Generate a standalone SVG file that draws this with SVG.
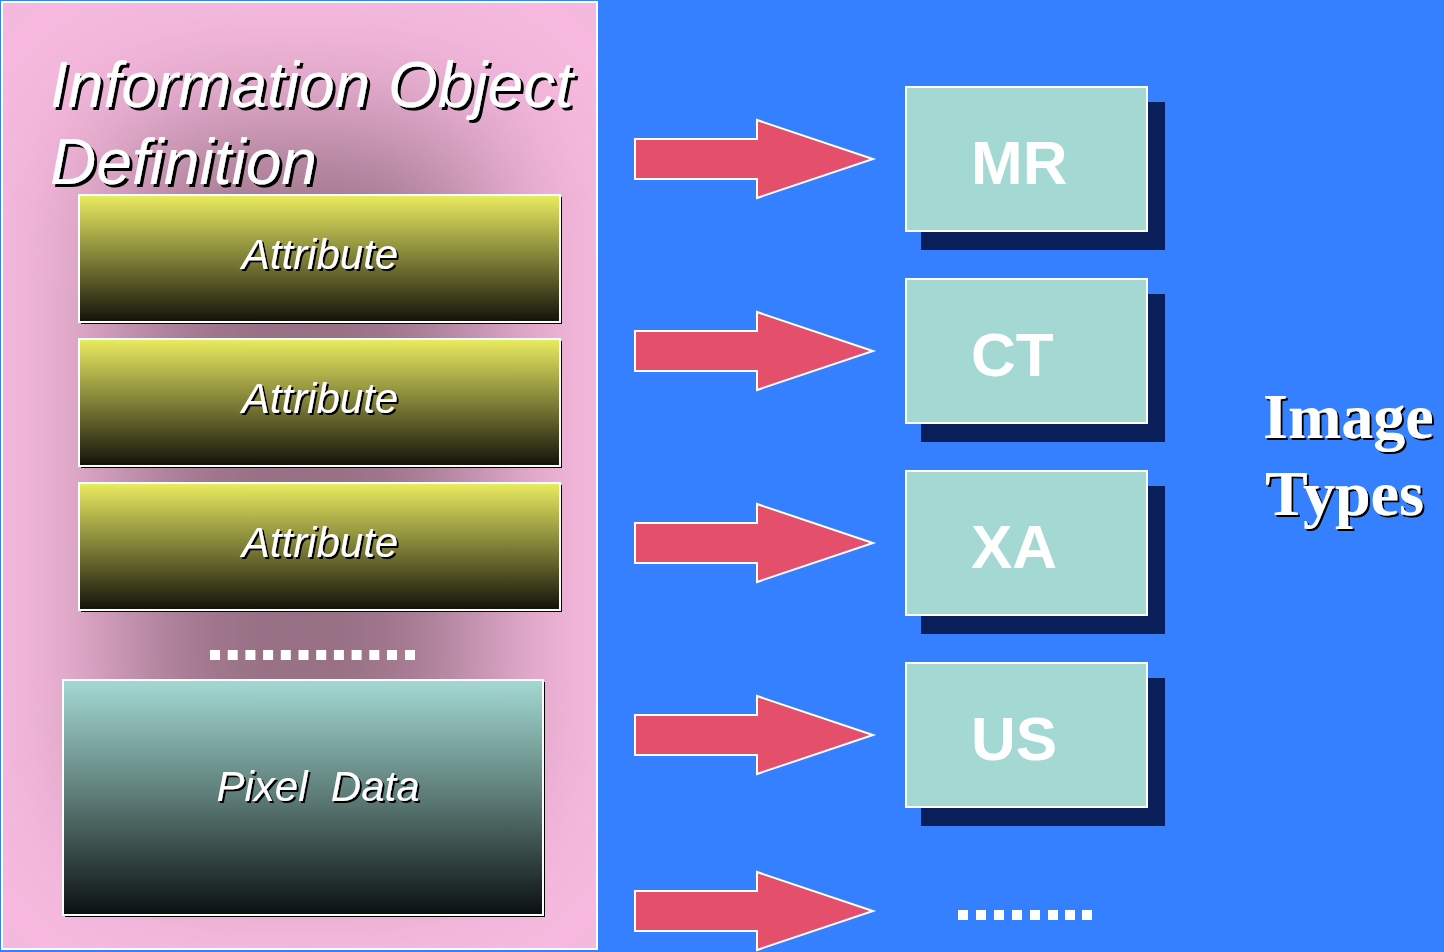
<svg xmlns="http://www.w3.org/2000/svg" width="1444" height="952" viewBox="0 0 1444 952">
  <defs>
    <linearGradient id="gAttr" x1="0" y1="0" x2="0" y2="1">
      <stop offset="0" stop-color="#EAEC60"/>
      <stop offset="0.5" stop-color="#7F7F38"/>
      <stop offset="1" stop-color="#12120A"/>
    </linearGradient>
    <linearGradient id="gPixel" x1="0" y1="0" x2="0" y2="1">
      <stop offset="0" stop-color="#A4D9D3"/>
      <stop offset="0.5" stop-color="#5C7B76"/>
      <stop offset="1" stop-color="#0B1010"/>
    </linearGradient>
    <filter id="haze" x="-60%" y="-60%" width="220%" height="220%">
      <feGaussianBlur stdDeviation="75"/>
    </filter>
    <filter id="shadow" x="-5%" y="-20%" width="110%" height="140%">
      <feOffset in="SourceAlpha" dx="3" dy="3" result="off"/>
      <feFlood flood-color="#000"/>
      <feComposite in2="off" operator="in" result="sh"/>
      <feMerge><feMergeNode in="sh"/><feMergeNode in="SourceGraphic"/></feMerge>
    </filter>
    <filter id="shadowSm" x="-5%" y="-20%" width="110%" height="140%">
      <feOffset in="SourceAlpha" dx="2" dy="2" result="off"/>
      <feFlood flood-color="#000"/>
      <feComposite in2="off" operator="in" result="sh"/>
      <feMerge><feMergeNode in="sh"/><feMergeNode in="SourceGraphic"/></feMerge>
    </filter>
    <clipPath id="panelClip"><rect x="3" y="3" width="593" height="945"/></clipPath>
    <polygon id="arrow" points="0,-20 122,-20 122,-39 238,0 122,39 122,20 0,20"/>
    <style>
      .sans { font-family: "Liberation Sans", Arial, sans-serif; fill: #fff; }
      .ital { font-style: italic; }
      .serif { font-family: "Liberation Serif", "Times New Roman", serif; fill: #fff; font-weight: bold; }
      .box { fill: #A4D9D3; stroke: #fff; stroke-width: 2; }
      .boxShadow { fill: #0A1E5A; }
      .attr { fill: url(#gAttr); stroke: #fff; stroke-width: 2; }
      .edge { fill: #000; }
      .arrow { fill: #E4506C; stroke: #fff; stroke-width: 2; }
      .dot { fill: #fff; }
    </style>
  </defs>

  <!-- background -->
  <rect x="0" y="0" width="1444" height="952" fill="#3580FF"/>

  <!-- Information Object Definition panel -->
  <g id="iod-panel">
    <rect x="2" y="2" width="595" height="947" fill="#F7BADF" stroke="#fff" stroke-width="2"/>
    <g clip-path="url(#panelClip)">
      <rect x="120" y="130" width="360" height="700" fill="#976F84" filter="url(#haze)"/>
    </g>
    <g class="sans ital" font-size="64" filter="url(#shadow)">
      <text x="50" y="107">Information Object</text>
      <text x="50" y="184">Definition</text>
    </g>
  </g>

  <g id="attribute-1">
    <rect class="edge" x="81" y="197" width="481" height="127"/>
    <rect class="attr" x="79" y="195" width="481" height="127"/>
    <text class="sans ital" x="320" y="269" font-size="42" text-anchor="middle" filter="url(#shadowSm)">Attribute</text>
  </g>
  <g id="attribute-2">
    <rect class="edge" x="81" y="341" width="481" height="127"/>
    <rect class="attr" x="79" y="339" width="481" height="127"/>
    <text class="sans ital" x="320" y="413" font-size="42" text-anchor="middle" filter="url(#shadowSm)">Attribute</text>
  </g>
  <g id="attribute-3">
    <rect class="edge" x="81" y="485" width="481" height="127"/>
    <rect class="attr" x="79" y="483" width="481" height="127"/>
    <text class="sans ital" x="320" y="557" font-size="42" text-anchor="middle" filter="url(#shadowSm)">Attribute</text>
  </g>

  <g id="attribute-more">
    <rect class="dot" x="210" y="650" width="10" height="10"/>
    <rect class="dot" x="227.7" y="650" width="10" height="10"/>
    <rect class="dot" x="245.4" y="650" width="10" height="10"/>
    <rect class="dot" x="263.1" y="650" width="10" height="10"/>
    <rect class="dot" x="280.8" y="650" width="10" height="10"/>
    <rect class="dot" x="298.5" y="650" width="10" height="10"/>
    <rect class="dot" x="316.2" y="650" width="10" height="10"/>
    <rect class="dot" x="333.9" y="650" width="10" height="10"/>
    <rect class="dot" x="351.6" y="650" width="10" height="10"/>
    <rect class="dot" x="369.3" y="650" width="10" height="10"/>
    <rect class="dot" x="387" y="650" width="10" height="10"/>
    <rect class="dot" x="405" y="650" width="10" height="10"/>
  </g>

  <g id="pixel-data">
    <rect class="edge" x="65" y="682" width="480" height="235"/>
    <rect x="63" y="680" width="480" height="235" fill="url(#gPixel)" stroke="#fff" stroke-width="2"/>
    <text class="sans ital" x="318" y="801" font-size="42" text-anchor="middle" filter="url(#shadowSm)" xml:space="preserve">Pixel  Data</text>
  </g>

  <!-- arrows -->
  <g id="connectors">
    <use href="#arrow" class="arrow" x="635" y="159"/>
    <use href="#arrow" class="arrow" x="635" y="351"/>
    <use href="#arrow" class="arrow" x="635" y="543"/>
    <use href="#arrow" class="arrow" x="635" y="735"/>
    <use href="#arrow" class="arrow" x="635" y="911"/>
  </g>

  <!-- image type boxes -->
  <g id="type-mr">
    <rect class="boxShadow" x="921" y="102" width="244" height="148"/>
    <rect class="box" x="906" y="87" width="241" height="144"/>
    <text class="sans" x="971" y="184" font-size="62" font-weight="bold">MR</text>
  </g>
  <g id="type-ct">
    <rect class="boxShadow" x="921" y="294" width="244" height="148"/>
    <rect class="box" x="906" y="279" width="241" height="144"/>
    <text class="sans" x="971" y="376" font-size="62" font-weight="bold">CT</text>
  </g>
  <g id="type-xa">
    <rect class="boxShadow" x="921" y="486" width="244" height="148"/>
    <rect class="box" x="906" y="471" width="241" height="144"/>
    <text class="sans" x="971" y="568" font-size="62" font-weight="bold">XA</text>
  </g>
  <g id="type-us">
    <rect class="boxShadow" x="921" y="678" width="244" height="148"/>
    <rect class="box" x="906" y="663" width="241" height="144"/>
    <text class="sans" x="971" y="760" font-size="62" font-weight="bold">US</text>
  </g>

  <g id="type-more">
    <rect class="dot" x="958" y="910" width="10" height="10"/>
    <rect class="dot" x="976" y="910" width="10" height="10"/>
    <rect class="dot" x="994" y="910" width="10" height="10"/>
    <rect class="dot" x="1012" y="910" width="10" height="10"/>
    <rect class="dot" x="1030" y="910" width="10" height="10"/>
    <rect class="dot" x="1048" y="910" width="10" height="10"/>
    <rect class="dot" x="1065" y="910" width="10" height="10"/>
    <rect class="dot" x="1082" y="910" width="10" height="10"/>
  </g>

  <g id="image-types-label" class="serif" font-size="64" filter="url(#shadowSm)">
    <text x="1263" y="438">Image</text>
    <text x="1265" y="515">Types</text>
  </g>
</svg>
